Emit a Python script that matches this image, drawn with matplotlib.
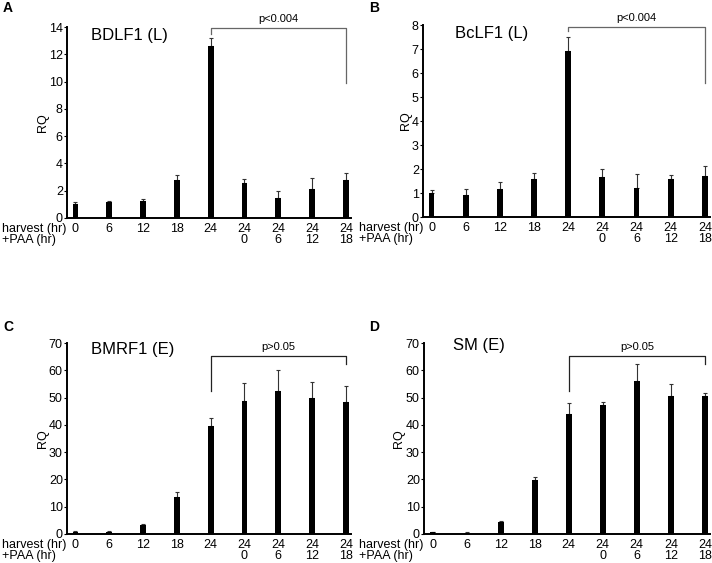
import matplotlib
matplotlib.use("Agg")
import matplotlib.pyplot as plt
import matplotlib.transforms as mtransforms

plt.rcParams['font.family'] = ['Liberation Sans', 'DejaVu Sans']

harvest_labels = ["0", "6", "12", "18", "24", "24", "24", "24", "24"]
paa_labels = ["", "", "", "", "", "0", "6", "12", "18"]

bdlf1_vals = [1.02, 1.15, 1.22, 2.78, 12.6, 2.6, 1.5, 2.12, 2.78]
bdlf1_err = [0.17, 0.07, 0.15, 0.38, 0.6, 0.25, 0.47, 0.83, 0.5]

bclf1_vals = [1.0, 0.93, 1.15, 1.58, 6.92, 1.68, 1.21, 1.57, 1.71]
bclf1_err = [0.12, 0.24, 0.31, 0.25, 0.56, 0.3, 0.58, 0.18, 0.43]

bmrf1_vals = [0.8, 0.8, 3.3, 13.6, 39.7, 48.8, 52.5, 49.9, 48.5]
bmrf1_err = [0.2, 0.2, 0.5, 1.8, 2.9, 6.6, 7.7, 5.7, 5.8]

sm_vals = [0.7, 0.5, 4.5, 19.8, 43.9, 47.1, 56.1, 50.6, 50.4]
sm_err = [0.1, 0.1, 0.2, 1.0, 4.1, 1.4, 6.3, 4.4, 1.3]

panels = [
    dict(letter="A", title="BDLF1 (L)", vals=bdlf1_vals, err=bdlf1_err, ymax=14,
         yticks=[0, 2, 4, 6, 8, 10, 12, 14], p="p<0.004",
         br=(13.95, 13.5, 9.86), brc="#666666",
         rect=(67, 218, 284, 191), tpos=(0.085, 0.955), lpos=(3, 8), rq=43, rowx=2),
    dict(letter="B", title="BcLF1 (L)", vals=bclf1_vals, err=bclf1_err, ymax=8,
         yticks=[0, 1, 2, 3, 4, 5, 6, 7, 8], p="p<0.004",
         br=(7.93, 7.73, 5.58), brc="#666666",
         rect=(423, 217, 287, 192), tpos=(0.11, 0.955), lpos=(369, 8), rq=406, rowx=359),
    dict(letter="C", title="BMRF1 (E)", vals=bmrf1_vals, err=bmrf1_err, ymax=70,
         yticks=[0, 10, 20, 30, 40, 50, 60, 70], p="p>0.05",
         br=(65.1, 52.4, 62.4), brc="#222222",
         rect=(67, 534, 284, 191), tpos=(0.085, 0.965), lpos=(3, 327), rq=43, rowx=2),
    dict(letter="D", title="SM (E)", vals=sm_vals, err=sm_err, ymax=70,
         yticks=[0, 10, 20, 30, 40, 50, 60, 70], p="p>0.05",
         br=(65.4, 52.5, 62.4), brc="#222222",
         rect=(424, 534, 286, 191), tpos=(0.10, 0.985), lpos=(369, 327), rq=399, rowx=359),
]

W, H = 712, 563
FS = 9
fig = plt.figure(figsize=(W / 100, H / 100), dpi=100)

for pn in panels:
    l, b, w, h = pn["rect"]
    ax = fig.add_axes([l / W, (H - b) / H, w / W, h / H])
    x = list(range(len(harvest_labels)))
    ax.bar(x, pn["vals"], width=0.17, color="black", zorder=2)
    ax.errorbar(x, pn["vals"], yerr=[[0] * len(x), pn["err"]], fmt="none",
                ecolor="#333333", elinewidth=0.8, capsize=1.5, capthick=0.8, zorder=1)
    ax.set_xlim(-0.25, 8.15)
    ax.set_ylim(0, pn["ymax"])
    ax.set_yticks(pn["yticks"])
    ax.set_yticklabels([str(t) for t in pn["yticks"]], fontsize=FS)
    ax.tick_params(axis="y", length=2, width=0.8, pad=1)
    ax.set_xticks(x)
    ax.set_xticklabels(harvest_labels, fontsize=FS)
    ax.tick_params(axis="x", length=0, pad=3.5)
    off = mtransforms.offset_copy(ax.get_xaxis_transform(), fig=fig, x=0, y=-22, units="dots")
    for xi, lab in zip(x, paa_labels):
        if lab:
            ax.text(xi, 0, lab, transform=off, ha="center", va="center", fontsize=FS)
    for s in ["top", "right"]:
        ax.spines[s].set_visible(False)
    for s in ["left", "bottom"]:
        ax.spines[s].set_linewidth(1.4)
    ax.patch.set_alpha(0)

    # bracket
    top, lleg, rleg = pn["br"]
    ax.plot([4, 4, 8, 8], [lleg, top, top, rleg], color=pn["brc"], lw=0.9, clip_on=False)
    tp = mtransforms.offset_copy(ax.transData, fig=fig, x=0, y=9, units="dots")
    ax.text(6, top, pn["p"], transform=tp, ha="center", va="center", fontsize=8)

    ax.text(pn["tpos"][0], pn["tpos"][1], pn["title"], transform=ax.transAxes,
            ha="left", va="center", fontsize=12)

    # panel letter
    fig.text(pn["lpos"][0] / W, 1 - pn["lpos"][1] / H, pn["letter"], fontsize=10,
             fontweight="bold", ha="left", va="center")
    # RQ
    fig.text(pn["rq"] / W, 1 - (b - h / 2) / H, "RQ", rotation=90, ha="center",
             va="center", fontsize=FS)
    # row labels
    fig.text(pn["rowx"] / W, 1 - (b + 11) / H, "harvest (hr)", ha="left", va="center", fontsize=FS)
    fig.text(pn["rowx"] / W, 1 - (b + 22) / H, "+PAA (hr)", ha="left", va="center", fontsize=FS)

fig.savefig("out.png", dpi=100)
